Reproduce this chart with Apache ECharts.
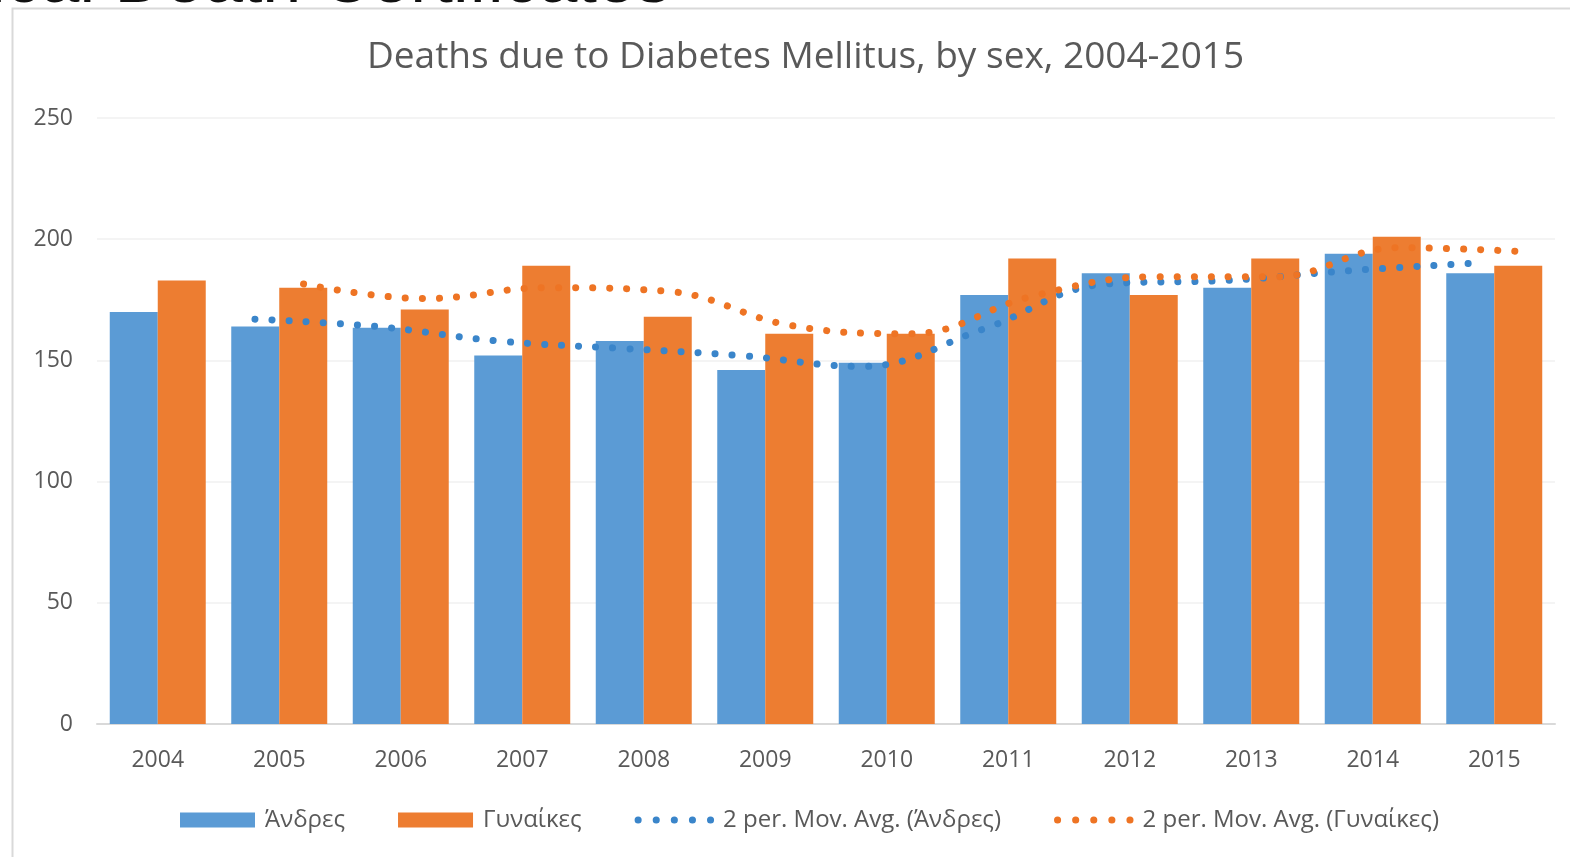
<!DOCTYPE html>
<html>
<head>
<meta charset="utf-8">
<title>Deaths due to Diabetes Mellitus</title>
<script src="https://cdn.jsdelivr.net/npm/echarts@6/dist/echarts.min.js"></script>
<style>
html, body { margin: 0; padding: 0; background: #fff; }
#chart { width: 1570px; height: 857px; }
</style>
</head>
<body>
<div id="chart"></div>
<script>
var years = ['2004', '2005', '2006', '2007', '2008', '2009', '2010', '2011', '2012', '2013', '2014', '2015'];
var men = [170, 164, 163.5, 152, 158, 146, 149, 177, 186, 180, 194, 186];
var women = [183, 180, 171, 189, 168, 161, 161, 192, 177, 192, 201, 189];
// trendline points, from 2005 to 2015
var menAvg = [167, 164, 158, 155, 152, 147.5, 163, 181.5, 183, 187, 190];
var womenAvg = [181.5, 175.5, 180, 178.5, 164.5, 161, 176.5, 184.5, 184.5, 196.5, 195];
var yTicks = [0, 50, 100, 150, 200, 250];

var names = ['Άνδρες', 'Γυναίκες', '2 per. Mov. Avg. (Άνδρες)', '2 per. Mov. Avg. (Γυναίκες)'];
var blue = '#5B9BD5', orange = '#ED7D31';
var blueDot = '#3A85CA', orangeDot = '#EE7424';
var font = 'Open Sans';

// trendlines sit over the centre of their own bar, not the category centre
function atBar(vals, shift) {
	return vals.map(function (v, i) { return [i + 1 + shift, v]; });
}

var dotStyle = function (c, w, gap) {
	return { color: c, width: w, type: [0.1, gap], cap: 'round' };
};

var option = {
	backgroundColor: '#fff',
	animation: false,
	textStyle: { fontFamily: font },
	title: {
		text: 'Deaths due to Diabetes Mellitus, by sex, 2004-2015',
		left: 362,
		top: 34,
		textStyle: { fontFamily: font, fontSize: 37, fontWeight: 'normal', color: '#595959' }
	},
	graphic: [
		{ type: 'rect', left: 10, top: 6, shape: { width: 1600, height: 900 },
			style: { fill: 'none', stroke: '#D9D9D9', lineWidth: 2 }, silent: true },
		{ type: 'text', x: -10, y: 18, style: { text: 'ical Death Certificates', fontSize: 70,
			fontFamily: 'Liberation Sans', fill: '#111', verticalAlign: 'bottom' }, silent: true }
	],
	legend: {
		bottom: 20,
		left: 175,
		itemWidth: 75,
		itemHeight: 15,
		itemGap: 53,
		itemStyle: { borderWidth: 0 },
		textStyle: { fontFamily: font, fontSize: 24, color: '#595959', padding: [0, 0, 0, 5] },
		data: [
			{ name: names[0], icon: 'rect' },
			{ name: names[1], icon: 'rect' },
			{ name: names[2], itemStyle: { opacity: 0 }, lineStyle: dotStyle(blueDot, 7, 18) },
			{ name: names[3], itemStyle: { opacity: 0 }, lineStyle: dotStyle(orangeDot, 7, 18) }
		]
	},
	grid: { left: 97, right: 15, top: 118, bottom: 133, containLabel: false },
	xAxis: [{
		type: 'category',
		data: years,
		axisLine: { lineStyle: { color: '#D9D9D9', width: 2 } },
		axisTick: { show: false },
		axisLabel: { fontFamily: font, fontSize: 23, color: '#595959', margin: 25 }
	}, {
		type: 'value',
		min: -0.5,
		max: 11.5,
		show: false
	}],
	yAxis: {
		type: 'value',
		min: yTicks[0],
		max: yTicks[yTicks.length - 1],
		interval: yTicks[1] - yTicks[0],
		axisLine: { show: false },
		axisTick: { show: false },
		splitLine: { lineStyle: { color: '#F0F0F0', width: 1.5 } },
		axisLabel: { fontFamily: font, fontSize: 23, color: '#595959', margin: 24 }
	},
	series: [{
		name: names[0],
		type: 'bar',
		data: men,
		barGap: '0%',
		barCategoryGap: '21%',
		itemStyle: { color: blue }
	}, {
		name: names[1],
		type: 'bar',
		data: women,
		barGap: '0%',
		barCategoryGap: '21%',
		itemStyle: { color: orange }
	}, {
		name: names[2],
		type: 'line',
		xAxisIndex: 1,
		data: atBar(menAvg, -0.2),
		smooth: 0.4,
		symbol: 'none',
		itemStyle: { color: blueDot },
		lineStyle: dotStyle(blueDot, 7, 17),
		z: 5
	}, {
		name: names[3],
		type: 'line',
		xAxisIndex: 1,
		data: atBar(womenAvg, 0.2),
		smooth: 0.4,
		symbol: 'none',
		itemStyle: { color: orangeDot },
		lineStyle: dotStyle(orangeDot, 7, 17),
		z: 5
	}]
};

var myChart = echarts.init(document.getElementById('chart'));
myChart.setOption(option);
</script>
</body>
</html>
